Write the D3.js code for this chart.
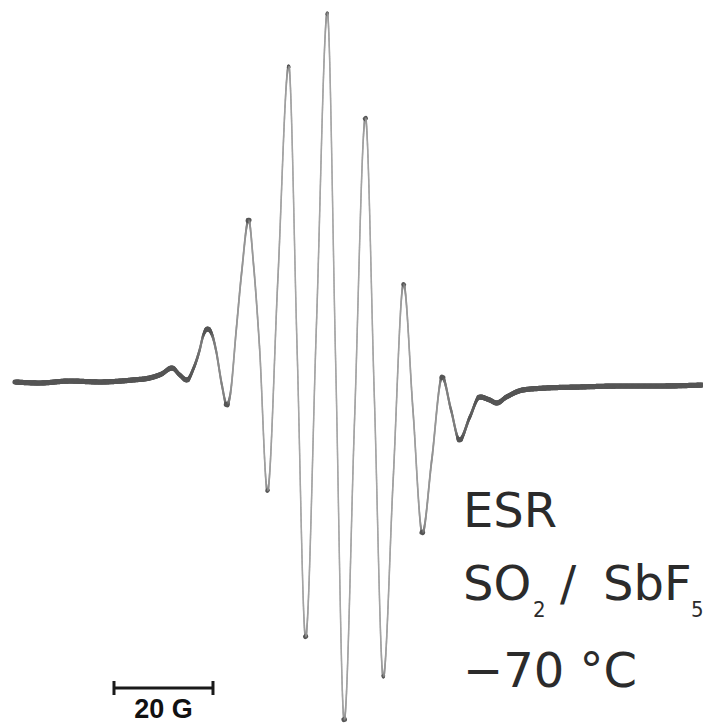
<!DOCTYPE html>
<html lang="en">
<head>
    <meta charset="UTF-8">
    <title>ESR SO2 / SbF5</title>
    <script src="https://d3js.org/d3.v7.min.js"></script>
    <style>
        body, html {
            margin: 0;
            padding: 0;
            background: #ffffff;
            overflow: hidden;
        }
        #chart {
            width: 703px;
            height: 724px;
        }
    </style>
</head>
<body>
    <div id="chart"></div>

    <script>
    // magnetic field offset (G) and derivative signal (a.u.)
    const fieldG = [
        -65.0, -60.0, -53.9, -47.9, -41.2, -37.8, -35.4, -33.3, -31.7, -30.3,
        -28.9, -27.7, -27.0, -26.1, -25.1, -24.4, -23.2, -22.2, -21.5, -20.3,
        -19.2, -17.8, -16.8, -15.6, -14.0, -11.9, -9.7, -8.0, -6.3, -4.1,
        -1.9, -0.2, 1.5, 3.6, 5.8, 7.6, 9.4, 11.4, 13.5, 15.4,
        17.3, 19.2, 21.3, 23.1, 24.8, 26.9, 28.9, 30.9, 32.3, 34.3,
        37.6, 42.4, 49.1, 57.2, 65.3, 74.0
    ];
    const signal = [
        0, -1, 1, 0, 2, 4, 8, 14, 7, 2,
        14, 32, 46, 53, 46, 32, -3, -23, -12, 52,
        110, 162, 117, 35, -109, 102, 316, 32, -255, 57,
        369, 16, -338, -38, 264, -15, -295, -98, 98, -28,
        -151, -78, 5, -28, -58, -35, -15, -18, -21, -15,
        -8, -6, -5, -4, -4, -3
    ];
    const scaleBarG = [-45, -25];
    const scaleBarLabel = "20 G";
    // sample label pieces: [text, isSubscript]
    const labelLines = [
        [["ESR", false]],
        [["SO", false], ["2", true], ["/", false], ["SbF", false], ["5", true]],
        [["\u221270 \u00b0C", false]]
    ];

    const width = 703, height = 724;

    const svg = d3.select("#chart")
        .append("svg")
        .attr("width", width)
        .attr("height", height);

    const x = d3.scaleLinear().domain([-65, 74]).range([15, 703]);
    const y = d3.scaleLinear().domain([-340, 380]).range([722, 2]);

    const points = fieldG.map((g, i) => [g, signal[i]]);

    const line = d3.line()
        .x(d => x(d[0]))
        .y(d => y(d[1]))
        .curve(d3.curveMonotoneX);

    // hidden guide path, then re-stroked in short pieces so flat (noisy) parts look heavier
    const guide = svg.append("path")
        .attr("d", line(points))
        .attr("fill", "none")
        .attr("stroke", "none");

    const node = guide.node();
    const total = node.getTotalLength();
    const step = 1.2;
    const samples = [];
    for (let l = 0; l <= total; l += step) {
        const p = node.getPointAtLength(l);
        samples.push([p.x, p.y]);
    }

    const shade = d3.interpolateRgb("#ababab", "#555555");
    const trace = svg.append("g").attr("class", "trace");
    for (let i = 1; i < samples.length; i++) {
        const a = samples[i - 1], b = samples[i];
        const dx = b[0] - a[0], dy = b[1] - a[1];
        const len = Math.hypot(dx, dy) || 1;
        const c = Math.abs(dx) / len;
        trace.append("line")
            .attr("x1", a[0]).attr("y1", a[1])
            .attr("x2", b[0]).attr("y2", b[1])
            .attr("stroke", shade(Math.min(1, c * 2.5)))
            .attr("stroke-width", 1.4 + 3.8 * c)
            .attr("stroke-linecap", "round");
    }

    // scale bar
    const bar = svg.append("g").attr("class", "scale-bar");
    const bx0 = x(scaleBarG[0]), bx1 = x(scaleBarG[1]), by = 688;
    bar.append("line")
        .attr("x1", bx0).attr("x2", bx1)
        .attr("y1", by).attr("y2", by)
        .attr("stroke", "#1a1a1a").attr("stroke-width", 3);
    [bx0, bx1].forEach(bx => {
        bar.append("line")
            .attr("x1", bx).attr("x2", bx)
            .attr("y1", by - 7).attr("y2", by + 7)
            .attr("stroke", "#1a1a1a").attr("stroke-width", 3);
    });
    bar.append("text")
        .attr("x", (bx0 + bx1) / 2)
        .attr("y", 718)
        .attr("text-anchor", "middle")
        .attr("font-family", "Liberation Sans, Arial, sans-serif")
        .attr("font-weight", "bold")
        .attr("font-size", 27)
        .attr("fill", "#111")
        .text(scaleBarLabel);

    // sample label; pieces of line 2 are placed one by one like the original
    const baselines = [527, 600, 687];
    const pieceX = [[463], [463, 533, 560, 603, 691], [463]];
    labelLines.forEach((pieces, i) => {
        pieces.forEach(([str, sub], k) => {
            svg.append("text")
                .attr("x", pieceX[i][k])
                .attr("y", baselines[i] + (sub ? 17 : 0))
                .attr("font-family", sub ? "Liberation Sans Narrow, DejaVu Sans Condensed, sans-serif" : "DejaVu Sans, Verdana, sans-serif")
                .attr("font-size", sub ? 22 : 48)
                .attr("fill", "#2b2b2b")
                .text(str);
        });
    });
    </script>
</body>
</html>
